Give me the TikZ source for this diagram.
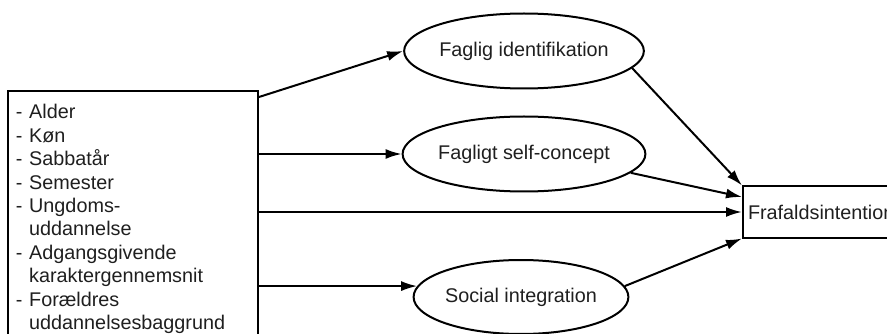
\documentclass[tikz,border=0pt]{standalone}
\usepackage{fontspec}
\setmainfont{Liberation Sans}
\usetikzlibrary{shapes.geometric,arrows.meta}
\tikzset{
  txt/.style={font=\fontsize{19.8}{23.4}\selectfont, text=black!88},
  bx/.style={draw, line width=2pt, txt},
  ell/.style={draw, ellipse, line width=2pt, minimum width=198pt, minimum height=75pt, inner sep=0pt, txt},
  arr/.style={line width=2pt, -{Latex[length=16pt,width=10pt]}}
}
\begin{document}
\begin{tikzpicture}[x=1pt,y=-1pt]
\useasboundingbox (0,0) rectangle (887,334);
\node[bx, anchor=north west, minimum width=250pt, minimum height=256pt, text width=234pt, align=left, inner xsep=8pt, inner ysep=0pt] (L) at (7,90)
 {- Alder\\- Køn\\- Sabbatår\\- Semester\\- Ungdoms-\\\hphantom{- }uddannelse\\- Adgangsgivende\\\hphantom{- }karaktergennemsnit\\- Forældres\\\hphantom{- }uddannelsesbaggrund};
\node[ell] (e1) at (524,51) {Faglig identifikation};
\node[ell] (e2) at (524,154) {Fagligt self-concept};
\node[ell, minimum height=74pt, minimum width=202pt] (e3) at (521,297) {Social integration};
\node[bx, anchor=west, minimum height=51pt, minimum width=220pt, text width=210pt, align=left, inner xsep=5pt] (rb) at (742,212) {Frafaldsintention};
\draw[arr] ([yshift=-7pt]L.north east) -- (e1.west);
\draw[arr] (L.east |- e2.west) -- (e2.west);
\draw[arr] (L.east |- rb.west) -- (rb.west);
\draw[arr] (L.east |- e3.174) -- (e3.174);
\draw[arr] (e1.-9) -- (rb.north west);
\draw[arr] (e2.-10) -- ([yshift=15pt]rb.west);
\draw[arr] (e3.6) -- (rb.south west);
\end{tikzpicture}
\end{document}
